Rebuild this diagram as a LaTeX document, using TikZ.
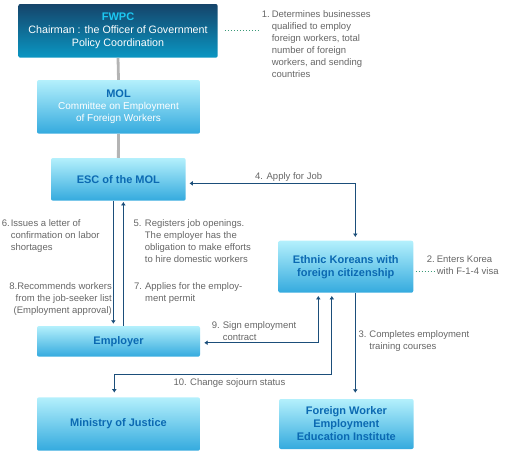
\documentclass[tikz,border=0pt]{standalone}
\usepackage{fontspec}
\setmainfont{Liberation Sans}
\usetikzlibrary{arrows.meta}

\definecolor{fwpctop}{HTML}{15446A}
\definecolor{fwpcbot}{HTML}{0A97C3}
\definecolor{fwpccyan}{HTML}{1CC8F2}
\definecolor{boxtop}{HTML}{B4F0FC}
\definecolor{boxbot}{HTML}{34AADE}
\definecolor{boxtext}{HTML}{0B69B2}
\definecolor{flowblue}{HTML}{1B4E7A}
\definecolor{notegray}{HTML}{666666}
\definecolor{linegray}{HTML}{B4B4B4}
\definecolor{dotgreen}{HTML}{3A9A78}

\newcommand{\headfont}{\fontsize{11}{13}\selectfont\bfseries}

\begin{document}
\begin{tikzpicture}[x=1pt, y=-1pt,
  >={Latex[length=3.5pt,width=5pt]},
  box/.style={rounded corners=2pt, top color=boxtop, bottom color=boxbot,
    inner sep=0pt, align=center, text=boxtext, font=\headfont},
  flow/.style={draw=flowblue, line width=1.1pt},
  note/.style={text=notegray, inner sep=0pt, font=\fontsize{9.5}{12}\selectfont},
  grayline/.style={draw=linegray, line width=2.8pt},
  dotline/.style={draw=dotgreen, line width=1pt, dash pattern=on 1pt off 2pt}]

% Fix the page size
\useasboundingbox (0,0) rectangle (505,455);

% The boxes
\node[box, top color=fwpctop, bottom color=fwpcbot, text=white,
  font=\fontsize{10.7}{12.7}\selectfont, minimum width=199.4pt, minimum height=53.7pt]
  (fwpc) at (118,30.85) {{\headfont\color{fwpccyan}FWPC}\\Chairman : the Officer of Government\\Policy Coordination};
\node[box, text=white, font=\fontsize{10}{12}\selectfont, minimum width=163pt, minimum height=53.7pt]
  (mol) at (118.5,106.85) {{\headfont\color{boxtext}MOL}\\Committee on Employment\\of Foreign Workers};
\node[box, minimum width=134.7pt, minimum height=42.7pt] (esc) at (118.35,179.35) {ESC of the MOL};
\node[box, minimum width=135pt, minimum height=52pt] (ethnic) at (345.8,266.7) {Ethnic Koreans with\\foreign citizenship};
\node[box, minimum width=163pt, minimum height=30.7pt] (employer) at (118.5,341.35) {Employer};
\node[box, minimum width=163pt, minimum height=53.4pt] (moj) at (118.5,424) {Ministry of Justice};
\node[box, minimum width=134.7pt, minimum height=50pt] (eei) at (346.35,424) {Foreign Worker\\Employment\\Education Institute};

% The notes
\node[note, anchor=north west] (n1) at (261.7,8.4) {\begin{tabular}{@{}l@{\hspace{2pt}}l@{}}
  1. & Determines businesses\\ & qualified to employ\\ & foreign workers, total\\
     & number of foreign\\ & workers, and sending\\ & countries\end{tabular}};
\node[note, anchor=north west] (n2) at (426.7,253.4) {\begin{tabular}{@{}l@{\hspace{2pt}}l@{}}
  2. & Enters Korea\\ & with F-1-4 visa\end{tabular}};
\node[note, anchor=north west] (n3) at (358.3,328.4) {\begin{tabular}{@{}l@{\hspace{3pt}}l@{}}
  3. & Completes employment\\ & training courses\end{tabular}};
\node[note, anchor=base west] (n4) at (255,179.1) {4. Apply for Job};
\node[note, anchor=north west] (n5) at (133.3,217.7) {\begin{tabular}{@{}l@{\hspace{3.5pt}}l@{}}
  5. & Registers job openings.\\ & The employer has the\\
     & obligation to make efforts\\ & to hire domestic workers\end{tabular}};
\node[note, anchor=north west] (n6) at (1.7,217.7) {\begin{tabular}{@{}l@{\hspace{1pt}}l@{}}
  6. & Issues a letter of\\ & confirmation on labor\\ & shortages\end{tabular}};
\node[note, anchor=north west] (n7) at (134,280.7) {\begin{tabular}{@{}l@{\hspace{3pt}}l@{}}
  7. & Applies for the employ-\\ & ment permit\end{tabular}};
\node[note, anchor=north east] (n8) at (112,281.1) {\begin{tabular}{@{}r@{}}
  8.Recommends workers\\ from the job-seeker list\\ (Employment approval)\end{tabular}};
\node[note, anchor=north west] (n9) at (211.7,319.4) {\begin{tabular}{@{}l@{\hspace{3pt}}l@{}}
  9. & Sign employment\\ & contract\end{tabular}};
\node[note, anchor=base west] (n10) at (173.3,385.8) {10. Change sojourn status};

% Gray links down the chain
\draw[grayline] (fwpc.south) -- (mol.north);
\draw[grayline] (mol.south) -- (esc.north);

% Dotted pointers to notes 1 and 2
\draw[dotline] ([xshift=7pt]fwpc.east) -- ([xshift=-2pt]fwpc.east -| n1.west);
\draw[dotline] ([xshift=2pt,yshift=-5pt]ethnic.east) -- ++(19,0);

% Arrows
\draw[flow, <->, shorten <=3.5pt, shorten >=3.5pt] ([yshift=-4pt]esc.east) -| ([xshift=9.5pt]ethnic.north);
\draw[flow, ->, shorten >=2pt] ([xshift=-5pt]esc.south) -- ([xshift=-5pt]esc.south |- employer.north);
\draw[flow, ->, shorten >=1pt] ([xshift=5pt]esc.south |- employer.north) -- ([xshift=5pt]esc.south);
\draw[flow, <->, shorten <=3pt, shorten >=4pt] ([xshift=-27.5pt]ethnic.south) |- ([yshift=-1.4pt]employer.east);
\draw[flow, <->, shorten <=3pt, shorten >=4.5pt] ([xshift=-14pt]ethnic.south) -- ++(0,81.3) -| ([xshift=-4.2pt]moj.north);
\draw[flow, ->, shorten >=6pt] ([xshift=9.5pt]ethnic.south) -- ([xshift=9.5pt]ethnic.south |- eei.north);
\end{tikzpicture}
\end{document}
